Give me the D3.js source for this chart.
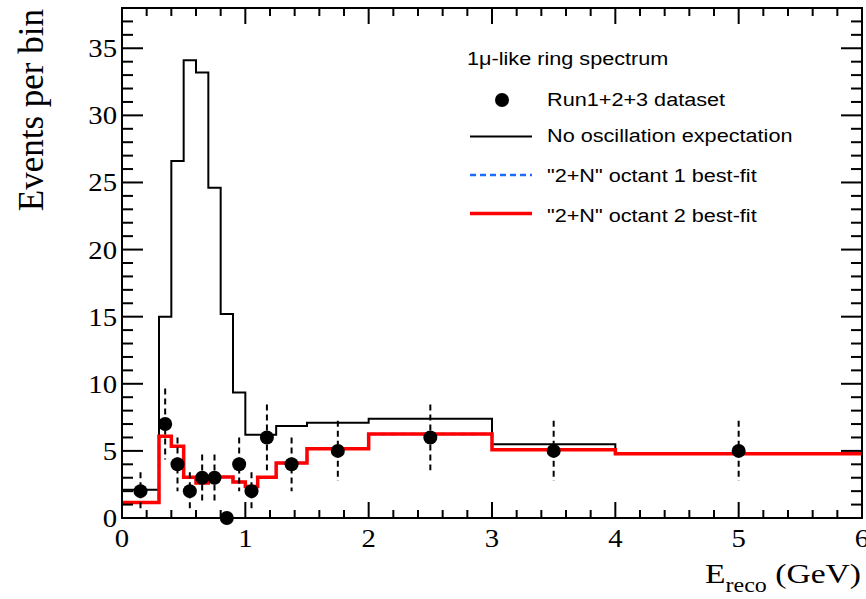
<!DOCTYPE html>
<html>
<head>
<meta charset="utf-8">
<script src="https://cdn.jsdelivr.net/npm/d3@7"></script>
<style>
  html, body { margin: 0; padding: 0; background: #fff; }
  svg { display: block; }
</style>
</head>
<body>
<svg id="chart" width="866" height="599"></svg>
<script>
// Reconstructed-energy bin edges (GeV)
const binEdges = [0, 0.3, 0.4, 0.5, 0.6, 0.7, 0.8, 0.9, 1.0, 1.1, 1.25, 1.5, 2.0, 3.0, 4.0, 6.0];
// No-oscillation expectation per bin
const noOsc = [2.1, 15.0, 26.6, 34.1, 33.2, 24.6, 15.2, 9.35, 6.2, 6.2, 6.85, 7.1, 7.4, 5.5, 4.8];
// "2+N" best-fit predictions per bin
const octant1 = [1.15, 6.1, 5.35, 3.03, 2.6, 3.06, 3.06, 2.68, 2.34, 3.04, 4.09, 5.16, 6.26, 5.08, 4.79];
const octant2 = [1.15, 6.1, 5.35, 3.03, 2.6, 3.06, 3.06, 2.68, 2.34, 3.04, 4.09, 5.16, 6.26, 5.08, 4.79];
// Observed events (Run1+2+3) at bin centres with statistical errors
const dataE = [0.15, 0.35, 0.45, 0.55, 0.65, 0.75, 0.85, 0.95, 1.05, 1.175, 1.375, 1.75, 2.5, 3.5, 5.0];
const dataN = [2, 7, 4, 2, 3, 3, 0, 4, 2, 6, 4, 5, 6, 5, 5];
const dataErr = [1.41, 2.65, 2.0, 1.41, 1.73, 1.73, 0, 2.0, 1.41, 2.45, 2.0, 2.24, 2.45, 2.24, 2.24];
// Axis tick values
const xMajor = [0, 1, 2, 3, 4, 5, 6];
const yMajor = [0, 5, 10, 15, 20, 25, 30, 35];

const svg = d3.select("#chart");
const L = 122, R = 862, T = 8, B = 518;
const x = d3.scaleLinear().domain([0, 6]).range([L, R]);
const y = d3.scaleLinear().domain([0, 38]).range([B, T]);

const SX = 1.14; // horizontal glyph stretch of the legend text
const serif = "'Liberation Serif', 'Times New Roman', serif";
const sans = "'Liberation Sans', Arial, Helvetica, sans-serif";

function label(g, px, py, str, opts) {
  const t = g.append("text")
    .attr("transform", `translate(${px},${py}) scale(${opts.sx || SX},1)`)
    .attr("font-family", opts.family)
    .attr("font-size", opts.size)
    .attr("text-anchor", opts.anchor || "start")
    .attr("fill", "#000");
  t.text(str);
  return t;
}

// Step histogram path from edges and values
function stepPoints(vals) {
  const pts = vals.map((v, i) => [binEdges[i], v]);
  pts.push([binEdges[binEdges.length - 1], vals[vals.length - 1]]);
  return pts;
}
const stepLine = d3.line().x(d => x(d[0])).y(d => y(d[1])).curve(d3.curveStepAfter);

const plot = svg.append("g");

// No oscillation expectation
plot.append("path").datum(stepPoints(noOsc))
  .attr("d", stepLine).attr("fill", "none")
  .attr("stroke", "#000").attr("stroke-width", 2);

// Octant 1 best-fit (dashed blue)
plot.append("path").datum(stepPoints(octant1))
  .attr("d", stepLine).attr("fill", "none")
  .attr("stroke", "#1a6cff").attr("stroke-width", 2.5)
  .attr("stroke-dasharray", "6,4");

// Octant 2 best-fit (red)
plot.append("path").datum(stepPoints(octant2))
  .attr("d", stepLine).attr("fill", "none")
  .attr("stroke", "#ff0000").attr("stroke-width", 3.5);

// Data error bars
const pts = dataE.map((e, i) => ({ e, n: dataN[i], err: dataErr[i] }));
plot.selectAll("line.err").data(pts.filter(d => d.err > 0)).join("line")
  .attr("class", "err")
  .attr("x1", d => x(d.e)).attr("x2", d => x(d.e))
  .attr("y1", d => y(d.n + d.err)).attr("y2", d => y(d.n - d.err))
  .attr("stroke", "#000").attr("stroke-width", 2)
  .attr("stroke-dasharray", "6,4");

// Data points
plot.selectAll("circle.pt").data(pts).join("circle")
  .attr("class", "pt")
  .attr("cx", d => x(d.e)).attr("cy", d => y(d.n))
  .attr("r", 7).attr("fill", "#000");

// Frame
const axes = svg.append("g");
axes.append("rect")
  .attr("x", L).attr("y", T).attr("width", R - L).attr("height", B - T)
  .attr("fill", "none").attr("stroke", "#000").attr("stroke-width", 2);

// Ticks on all four sides
const xMinor = d3.range(0, 6.0001, 0.2).filter(v => !xMajor.some(m => Math.abs(m - v) < 1e-6));
const yMinor = d3.range(0, 38.0001, 1).filter(v => !yMajor.includes(v));
function xt(vals, len) {
  axes.selectAll(null).data(vals).join("line")
    .attr("x1", d => x(d)).attr("x2", d => x(d))
    .attr("y1", B).attr("y2", B - len)
    .attr("stroke", "#000").attr("stroke-width", 2);
  axes.selectAll(null).data(vals).join("line")
    .attr("x1", d => x(d)).attr("x2", d => x(d))
    .attr("y1", T).attr("y2", T + len)
    .attr("stroke", "#000").attr("stroke-width", 2);
}
function yt(vals, len) {
  axes.selectAll(null).data(vals).join("line")
    .attr("x1", L).attr("x2", L + len)
    .attr("y1", d => y(d)).attr("y2", d => y(d))
    .attr("stroke", "#000").attr("stroke-width", 2);
  axes.selectAll(null).data(vals).join("line")
    .attr("x1", R).attr("x2", R - len)
    .attr("y1", d => y(d)).attr("y2", d => y(d))
    .attr("stroke", "#000").attr("stroke-width", 2);
}
xt(xMajor, 16); xt(xMinor, 8);
yt(yMajor, 21); yt(yMinor, 11);

// Tick labels
xMajor.forEach(v => label(axes, x(v), 547, String(v), { family: serif, size: 25, anchor: "middle", sx: 1.15 }));
yMajor.forEach(v => label(axes, 117, y(v) + 9, String(v), { family: serif, size: 25, anchor: "end", sx: 1.15 }));

// Axis titles
axes.append("text")
  .attr("transform", "translate(43,9) rotate(-90)")
  .attr("font-family", serif).attr("font-size", 35)
  .attr("text-anchor", "end").text("Events per bin");

const xTitle = axes.append("text")
  .attr("transform", "translate(861,583) scale(1.2,1)")
  .attr("font-family", serif).attr("font-size", 28)
  .attr("text-anchor", "end");
xTitle.append("tspan").text("E");
xTitle.append("tspan").attr("font-size", 20).attr("dy", 9).text("reco");
xTitle.append("tspan").attr("dy", -9).text(" (GeV)");

// Legend
const leg = svg.append("g");
label(leg, 467, 65, "1\u03BC-like ring spectrum", { family: sans, size: 19 });
leg.append("circle").attr("cx", 502).attr("cy", 100).attr("r", 7).attr("fill", "#000");
label(leg, 547, 106, "Run1+2+3 dataset", { family: sans, size: 19 });
leg.append("line").attr("x1", 470).attr("x2", 532).attr("y1", 136.5).attr("y2", 136.5)
  .attr("stroke", "#000").attr("stroke-width", 2);
label(leg, 547, 142, "No oscillation expectation", { family: sans, size: 19 });
leg.append("line").attr("x1", 470).attr("x2", 532).attr("y1", 175).attr("y2", 175)
  .attr("stroke", "#1a6cff").attr("stroke-width", 2.5).attr("stroke-dasharray", "6,4");
label(leg, 547, 182, "\"2+N\" octant 1 best-fit", { family: sans, size: 19 });
leg.append("line").attr("x1", 470).attr("x2", 532).attr("y1", 213.5).attr("y2", 213.5)
  .attr("stroke", "#ff0000").attr("stroke-width", 3.5);
label(leg, 547, 222, "\"2+N\" octant 2 best-fit", { family: sans, size: 19 });
</script>
</body>
</html>
